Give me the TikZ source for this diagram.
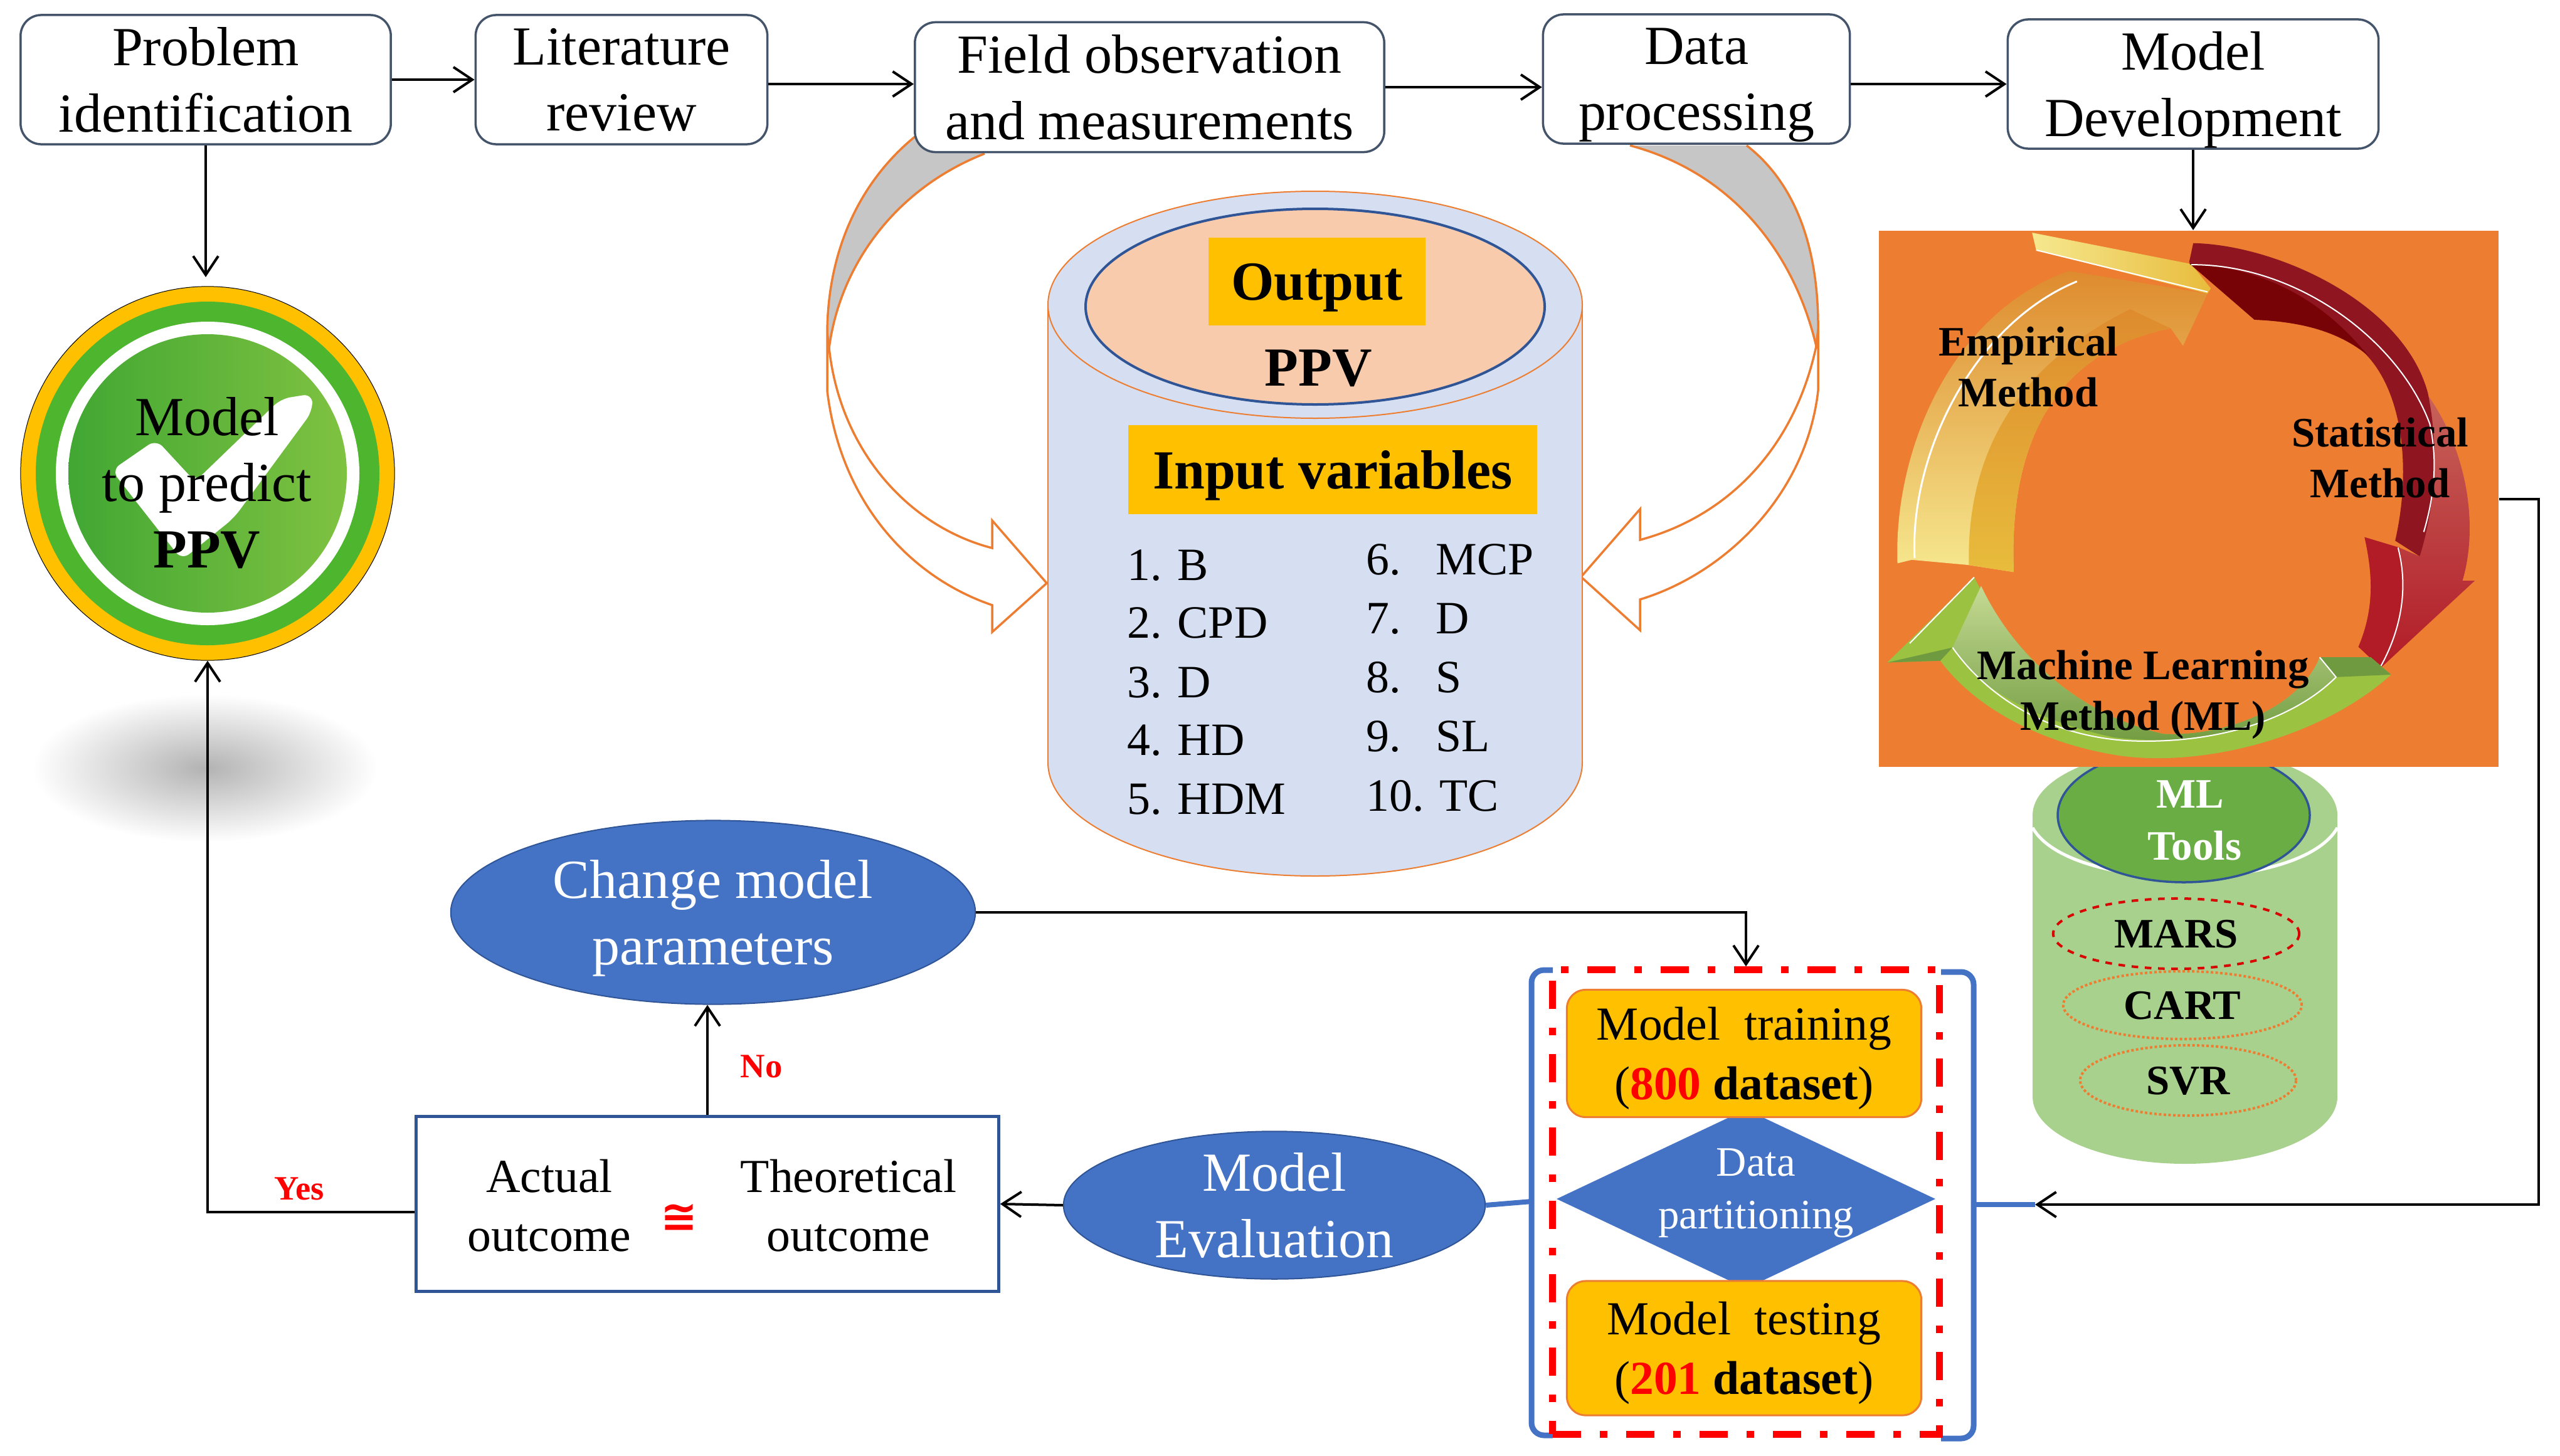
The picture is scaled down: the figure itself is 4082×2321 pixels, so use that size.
\documentclass[tikz,border=0pt]{standalone}
\usepackage{fontspec}
\usepackage{amsmath}
\usepackage{tikz}
\usetikzlibrary{arrows.meta,shapes.geometric,calc}
\setmainfont{Liberation Serif}
\newfontfamily\symbolfont{DejaVu Sans}

\definecolor{slateline}{HTML}{44546A}
\definecolor{navyline}{HTML}{2F5597}
\definecolor{bubbleblue}{HTML}{4472C4}
\definecolor{orangeline}{HTML}{ED7D31}
\definecolor{goldfill}{HTML}{FFC000}
\definecolor{paleblue}{HTML}{D5DFF1}
\definecolor{salmon}{HTML}{F8CBAD}
\definecolor{palegreen}{HTML}{A9D18E}
\definecolor{toolgreen}{HTML}{6AAD45}
\definecolor{swoopgray}{HTML}{C6C6C6}
\definecolor{badgering}{HTML}{4DB52E}
\definecolor{badgeleft}{HTML}{41A733}
\definecolor{badgeright}{HTML}{7FC241}
\definecolor{amber}{HTML}{DE8B2E}
\definecolor{honey}{HTML}{E8BC3C}
\definecolor{butter}{HTML}{F6E88F}
\definecolor{rosered}{HTML}{C96A60}
\definecolor{crimson}{HTML}{B21C27}
\definecolor{wine}{HTML}{8F1620}
\definecolor{maroon}{HTML}{780306}
\definecolor{leaf}{HTML}{9CC241}
\definecolor{leafdark}{HTML}{6F9A3F}
\definecolor{leafpale}{HTML}{C5DA93}

\tikzset{
  flowarrow/.style={line width=0.04cm,-{Straight Barb[length=0.3cm,width=0.4cm]}},
  stepbox/.style={draw=slateline,line width=0.035cm,fill=white,rounded corners=0.33cm,align=center,inner sep=0pt,
    text depth=-1.5pt,font=\fontsize{25}{30}\selectfont},
  bubble/.style={ellipse,draw=navyline,line width=0.02cm,fill=bubbleblue,text=white,align=center,inner sep=0pt,
    text depth=-1.5pt,font=\fontsize{25}{30}\selectfont},
  goldbox/.style={draw=orangeline,line width=0.03cm,fill=goldfill,rounded corners=0.3cm,align=center,inner sep=0pt,
    text depth=-2pt,minimum width=5.65cm,font=\fontsize{21.5}{27}\selectfont},
  banner/.style={fill=goldfill,inner sep=0pt,text depth=-0.5pt,font=\fontsize{25}{30}\selectfont\bfseries},
  listitem/.style={anchor=west,inner sep=0pt,font=\fontsize{21}{25}\selectfont},
  plaintext/.style={inner sep=0pt,align=center,font=\fontsize{21.5}{26.7}\selectfont},
  ringtext/.style={inner sep=0pt,align=center,font=\fontsize{19}{23}\selectfont\bfseries},
  redtext/.style={inner sep=0pt,text=red,font=\fontsize{15.5}{18}\selectfont\bfseries},
  toolring/.style={ellipse,inner sep=0pt,text depth=-1.5pt,font=\fontsize{19}{23}\selectfont\bfseries},
  swoop/.style={draw=orangeline,line width=0.035cm},
  bracket/.style={draw=bubbleblue,line width=0.09cm,rounded corners=0.2cm}
}

\begin{document}
\begin{tikzpicture}[x=0.01cm,y=-0.01cm]
\useasboundingbox (0,0) rectangle (4082,2321);

% Swoops behind the steps
\fill[swoopgray] (1460,217) .. controls (1370,290) and (1320,400) .. (1319,530) -- (1322,555)
  .. controls (1340,420) and (1430,300) .. (1570,245) -- cycle;
\draw[swoop,fill=white] (1322,555) .. controls (1340,720) and (1450,840) .. (1582,874) -- (1582,830) -- (1669,930)
  -- (1582,1008) -- (1582,965) .. controls (1450,920) and (1340,800) .. (1319,623) -- (1319,530) -- cycle;
\draw[swoop] (1460,217) .. controls (1370,290) and (1320,400) .. (1319,530);
\draw[swoop] (1570,245) .. controls (1430,300) and (1340,420) .. (1322,555);

\fill[swoopgray] (2599,232) .. controls (2760,275) and (2860,400) .. (2896,552) -- (2899,525)
  .. controls (2900,390) and (2860,290) .. (2785,232) -- cycle;
\draw[swoop,fill=white] (2896,552) .. controls (2860,720) and (2750,825) .. (2615,861) -- (2615,812) -- (2521,920)
  -- (2615,1005) -- (2615,956) .. controls (2750,915) and (2880,790) .. (2899,623) -- (2899,525) -- cycle;
\draw[swoop] (2599,232) .. controls (2760,275) and (2860,400) .. (2896,552);
\draw[swoop] (2785,232) .. controls (2860,290) and (2900,390) .. (2899,525);

% Steps along the top
\node[stepbox,minimum width=5.9cm,minimum height=2.06cm] (problem) at (328,127) {Problem\\identification};
\node[stepbox,minimum width=4.65cm,minimum height=2.06cm] (literature) at (991,127) {Literature\\review};
\node[stepbox,minimum width=7.48cm,minimum height=2.07cm] (field) at (1833,139) {Field observation\\and measurements};
\node[stepbox,minimum width=4.89cm,minimum height=2.06cm] (data) at (2705,126) {Data\\processing};
\node[stepbox,minimum width=5.91cm,minimum height=2.06cm] (model) at (3497,134) {Model\\Development};

\draw[flowarrow] (problem.east) -- (literature.west);
\draw[flowarrow] ($(literature.east)+(0,7)$) -- ($(field.west)+(0,-5)$);
\draw[flowarrow] (field.east) -- (field.east -| data.west);
\draw[flowarrow] (data.east |- model.west) -- (model.west);

% Check mark badge
\shade[inner color=black!30,outer color=white] (327,1225) ellipse (275 and 118);
\node[circle,draw=black,line width=0.01cm,fill=goldfill,minimum size=5.96cm,inner sep=0pt] (badge) at (331,755) {};
\fill[badgering] (331,755) circle (274);
\fill[white] (331,755) circle (242);
\shade[left color=badgeleft,right color=badgeright] (331,755) circle (222);
\fill[white,rounded corners=0.15cm] (178,750) -- (249,701) -- (311,768) -- (448,636) -- (498,628) -- (498,656)
  -- (373,826) -- (290,893) -- cycle;
\node[inner sep=0pt,align=center,font=\fontsize{25}{30}\selectfont] (badgetext) at (330,770)
  {Model\\to predict\\\textbf{PPV}};
\draw[flowarrow] (problem.south) -- (problem.south |- 0,442);

% Data cylinder
\draw[draw=orangeline,line width=0.02cm,fill=paleblue] (2097,1216) ellipse (426 and 181);
\fill[paleblue] (1671,486) rectangle (2523,1216);
\draw[orangeline,line width=0.02cm] (1671,486) -- (1671,1216);
\draw[orangeline,line width=0.02cm] (2523,486) -- (2523,1216);
\draw[draw=orangeline,line width=0.02cm,fill=paleblue] (2097,486) ellipse (426 and 181);
\draw[draw=navyline,line width=0.04cm,fill=salmon] (2097,489) ellipse (366 and 156);
\node[banner,minimum width=3.45cm,minimum height=1.39cm] (output) at (2100,449) {Output};
\node[inner sep=0pt,font=\fontsize{25}{30}\selectfont\bfseries] (ppvlabel) at (2102,587) {PPV};
\node[banner,minimum width=6.51cm,minimum height=1.41cm] (inputs) at (2125,749) {Input variables};

\node[listitem] (b) at (1797,902) {1. B};
\node[listitem] (cpd) at (1797,994) {2. CPD};
\node[listitem] (dleft) at (1797,1089) {3. D};
\node[listitem] (hd) at (1797,1181) {4. HD};
\node[listitem] (hdm) at (1797,1275) {5. HDM};
\node[listitem] (mcp) at (2178,893) {6.~~~MCP};
\node[listitem] (dright) at (2178,987) {7.~~~D};
\node[listitem] (s) at (2178,1080) {8.~~~S};
\node[listitem] (sl) at (2178,1175) {9.~~~SL};
\node[listitem] (tc) at (2178,1269) {10. TC};

% ML tools cylinder
\fill[palegreen] (3484,1749) ellipse (243 and 107);
\fill[palegreen] (3241,1300) rectangle (3727,1749);
\fill[palegreen] (3484,1300) ellipse (243 and 107);
\draw[white,line width=0.05cm] (3241,1320) .. controls (3300,1425) and (3668,1425) .. (3727,1320);
\draw[draw=navyline,line width=0.035cm,fill=toolgreen] (3482,1300) ellipse (201 and 107);
\node[inner sep=0pt,text=white,font=\fontsize{19}{23}\selectfont\bfseries] (ml) at (3492,1267) {ML};
\node[inner sep=0pt,text=white,font=\fontsize{19}{23}\selectfont\bfseries] (tools) at (3499,1349) {Tools};
\node[toolring,draw=red!85!black,dashed,line width=0.04cm,minimum width=3.92cm,minimum height=1.12cm] (mars) at (3470,1489) {MARS};
\node[toolring,draw=orangeline,densely dotted,line width=0.04cm,minimum width=3.8cm,minimum height=1.08cm] (cart) at (3480,1603) {CART};
\node[toolring,draw=orangeline,densely dotted,line width=0.04cm,minimum width=3.44cm,minimum height=1.12cm] (svr) at (3489,1723) {SVR};

% Method ring
\node[fill=orangeline,inner sep=0pt,minimum width=9.88cm,minimum height=8.55cm] (ring) at (3490,795.5) {};
\begin{scope}[shift={(2980,360)},xscale=0.6505,yscale=0.555]
% yellow arrow
\shade[top color=amber,bottom color=butter]
  (70,970) .. controls (60,650) and (200,250) .. (490,130) -- (830,195) -- (770,345) -- (740,295)
  .. controls (500,350) and (340,560) .. (355,995) -- (245,975) -- (105,960) -- cycle;
\shade[top color=amber,bottom color=honey]
  (245,975) .. controls (240,700) and (330,420) .. (640,240) -- (740,295)
  .. controls (500,350) and (340,560) .. (355,995) -- cycle;
\shade[left color=butter,right color=honey] (400,20) -- (790,110) -- (838,180) -- (830,195) -- (410,70) -- cycle;
\draw[white,line width=0.03cm] (112,955) .. controls (100,650) and (260,280) .. (510,160);
\draw[white,line width=0.02cm] (410,70) -- (830,190);
% red arrow
\shade[top color=rosered,bottom color=crimson]
  (1300,400) .. controls (1430,520) and (1510,800) .. (1455,1020) -- (1485,1020) -- (1255,1270) -- (1200,1210)
  .. controls (1240,1100) and (1235,1000) .. (1215,895) -- (1300,925) -- (1350,950)
  .. controls (1390,700) and (1370,500) .. (1300,400) -- cycle;
\fill[crimson] (1215,895) -- (1300,925) .. controls (1325,1050) and (1300,1170) .. (1255,1270) -- (1200,1210)
  .. controls (1240,1100) and (1235,1000) .. (1215,895) -- cycle;
\fill[wine]
  (795,50) .. controls (1000,55) and (1310,220) .. (1370,480) .. controls (1400,650) and (1385,820) .. (1350,950)
  -- (1290,905) .. controls (1330,700) and (1310,470) .. (1210,360) .. controls (1150,300) and (1050,275) .. (945,270)
  -- (785,105) -- cycle;
\fill[maroon] (785,108) .. controls (1000,125) and (1130,240) .. (1225,375)
  .. controls (1150,300) and (1050,275) .. (945,270) -- cycle;
\draw[white,line width=0.02cm] (790,112) .. controls (1050,110) and (1300,330) .. (1375,570) .. controls (1395,680) and (1385,780) .. (1360,880);
\draw[white,line width=0.02cm] (1297,925) .. controls (1325,1050) and (1300,1170) .. (1255,1265);
% green arrow
\fill[leaf]
  (1280,1290) .. controls (1100,1480) and (800,1560) .. (600,1520) .. controls (400,1480) and (250,1370) .. (175,1250)
  -- (45,1255) -- (258,1010) .. controls (350,1220) and (500,1400) .. (720,1460)
  .. controls (850,1470) and (1050,1400) .. (1105,1240) -- (1230,1240) -- cycle;
\shade[top color=leafpale,bottom color=leafdark]
  (275,1035) .. controls (350,1220) and (500,1400) .. (720,1460) .. controls (850,1470) and (1050,1400) .. (1105,1240)
  -- (1145,1297) .. controls (1020,1440) and (800,1500) .. (600,1470) .. controls (400,1420) and (260,1320) .. (205,1212)
  -- cycle;
\fill[leafdark] (1105,1240) -- (1230,1240) -- (1280,1290) -- (1145,1297) -- cycle;
\fill[leafdark] (45,1255) -- (205,1212) -- (175,1250) -- cycle;
\draw[white,line width=0.02cm] (100,1200) -- (258,1010);
\draw[white,line width=0.02cm] (205,1212) .. controls (300,1370) and (460,1470) .. (640,1480) .. controls (850,1490) and (1040,1420) .. (1145,1297) -- (1105,1240);
\end{scope}
\node[ringtext] (empirical) at (3234,585) {Empirical\\Method};
\node[ringtext] (statistical) at (3795,730) {Statistical\\Method};
\node[ringtext] (learning) at (3417,1108) {Machine Learning\\Method (ML)};
\draw[flowarrow] (model.south) -- (model.south |- ring.north);

% Data split
\coordinate (leftstub) at (2442,1916);
\coordinate (rightstub) at (3147,1921);
\coordinate (rightend) at (3245,1921);
\coordinate (corner) at (4048,1921);
\draw[bracket] (2476,1547) -- (2442,1547) -- (2442,2289) -- (2476,2289);
\draw[bracket] (3095,1550) -- (3147,1550) -- (3147,2294) -- (3095,2294);
\node[draw=red,line width=0.11cm,dash pattern=on 0.45cm off 0.3cm on 0.12cm off 0.3cm,
  minimum width=6.16cm,minimum height=7.4cm] (split) at (2784,1917) {};
\node[diamond,fill=bubbleblue,inner sep=0pt,minimum width=6.04cm,minimum height=2.86cm] (partition) at (2784,1912) {};
\node[inner sep=0pt,text=white,align=center,font=\fontsize{19}{24}\selectfont] (partitiontext) at (2800,1903) {Data\\partitioning};
\node[goldbox,minimum height=2.03cm] (training) at (2781,1680) {Model\ \ training\\(\textcolor{red}{\textbf{800}} \textbf{dataset})};
\node[goldbox,minimum height=2.14cm] (testing) at (2781,2150) {Model\ \ testing\\(\textcolor{red}{\textbf{201}} \textbf{dataset})};

% Evaluation loop
\node[bubble,minimum width=8.36cm,minimum height=2.93cm] (change) at (1137,1455) {Change model\\parameters};
\node[bubble,minimum width=6.72cm,minimum height=2.16cm] (evaluation) at (2032,1922) {Model\\Evaluation};
\node[draw=navyline,line width=0.05cm,fill=white,minimum width=9.28cm,minimum height=2.78cm] (outcome) at (1128,1920) {};
\node[plaintext] (actual) at (876,1923) {Actual\\outcome};
\node[plaintext] (theoretical) at (1353,1923) {Theoretical\\outcome};
\node[inner sep=0pt,text=red,font=\fontsize{20}{22}\selectfont\symbolfont\bfseries] (approx) at (1083,1942) {≅};
\node[redtext] (yes) at (477,1896) {Yes};
\node[redtext] (no) at (1214,1701) {No};

\draw[bracket,rounded corners=0pt,line width=0.08cm] (evaluation.east) -- (leftstub);
\draw[bracket,rounded corners=0pt,line width=0.08cm] (rightstub) -- (rightend);
\draw[flowarrow] (ring.east) -| (corner) -- (rightend);
\draw[flowarrow] (change.east) -| (split.north);
\draw[flowarrow] (evaluation.west) -- (outcome.east);
\draw[flowarrow] (outcome.north) -- (outcome.north |- change.south);
\draw[flowarrow] ($(outcome.west)+(0,13)$) -| (badge.south);
\end{tikzpicture}
\end{document}
